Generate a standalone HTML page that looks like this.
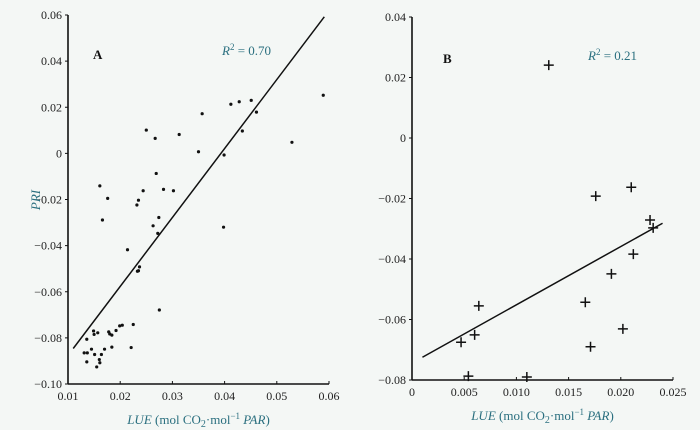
<!DOCTYPE html>
<html><head><meta charset="utf-8"><style>
html,body{margin:0;padding:0;background:#f4f7f5;}
svg{display:block;font-family:"Liberation Serif",serif;}
</style></head><body>
<svg id="c" width="700" height="430" viewBox="0 0 700 430">
<rect width="700" height="430" fill="#f4f7f5"/>
<g id="pa"></g>
<g id="pb"></g>
</svg>
<script>
const aX=[0.0161,0.0176,0.0250,0.0267,0.0269,0.0232,0.0235,0.0244,0.0283,0.0302,0.0313,0.0350,0.0357,0.0399,0.0412,0.0428,0.0434,0.0451,0.0461,0.0529,0.0589,0.0166,0.0263,0.0274,0.0272,0.0398,0.0214,0.0237,0.0233,0.0235,0.0275,0.0136,0.0131,0.0137,0.0136,0.0145,0.0149,0.0150,0.0157,0.0151,0.0155,0.0160,0.0161,0.0164,0.0170,0.0178,0.0180,0.0184,0.0184,0.0192,0.0199,0.0204,0.0225,0.0221];
const aY=[-0.0141,-0.0195,0.0101,0.0065,-0.0087,-0.0224,-0.0203,-0.0162,-0.0156,-0.0162,0.0082,0.0007,0.0172,-0.0007,0.0213,0.0224,0.0097,0.0230,0.0179,0.0048,0.0252,-0.0289,-0.0314,-0.0278,-0.0347,-0.0320,-0.0418,-0.0492,-0.0511,-0.0509,-0.0679,-0.0806,-0.0865,-0.0865,-0.0904,-0.0849,-0.0770,-0.0785,-0.0778,-0.0872,-0.0926,-0.0894,-0.0908,-0.0872,-0.0849,-0.0774,-0.0783,-0.0788,-0.0840,-0.0768,-0.0748,-0.0745,-0.0742,-0.0842];
const aFit=[2.99,-0.1175,0.011,0.0591];
const aXTicks=[0.01,0.02,0.03,0.04,0.05,0.06];
const aXLabels=["0.01","0.02","0.03","0.04","0.05","0.06"];
const aYTicks=[0.06,0.04,0.02,0,-0.02,-0.04,-0.06,-0.08,-0.10];
const aYLabels=["0.06","0.04","0.02","0","\u22120.02","\u22120.04","\u22120.06","\u22120.08","\u22120.10"];
const bX=[0.0131,0.0176,0.0210,0.0228,0.0231,0.0212,0.0191,0.0166,0.0064,0.0202,0.0060,0.0047,0.0171,0.0054,0.0110];
const bY=[0.0241,-0.0192,-0.0163,-0.0271,-0.0297,-0.0384,-0.0449,-0.0543,-0.0555,-0.0631,-0.0651,-0.0675,-0.0690,-0.0787,-0.0790];
const bFit=[1.926,-0.0744,0.001,0.024];
const bXTicks=[0,0.005,0.010,0.015,0.020,0.025];
const bXLabels=["0","0.005","0.010","0.015","0.020","0.025"];
const bYTicks=[0.04,0.02,0,-0.02,-0.04,-0.06,-0.08];
const bYLabels=["0.04","0.02","0","\u22120.02","\u22120.04","\u22120.06","\u22120.08"];

const NS="http://www.w3.org/2000/svg";
function mk(p,t,a){const e=document.createElementNS(NS,t);for(const k in a)e.setAttribute(k,a[k]);p.appendChild(e);return e;}

function panel(g,cfg){
  const sx=v=>cfg.x0+(v-cfg.xmin)/(cfg.xmax-cfg.xmin)*(cfg.x1-cfg.x0);
  const sy=v=>cfg.y1-(v-cfg.ymin)/(cfg.ymax-cfg.ymin)*(cfg.y1-cfg.y0);
  let e=mk(g,'line',{x1:cfg.x0,y1:cfg.y0,x2:cfg.x0,y2:cfg.y1,stroke:'#111','stroke-width':1.6});
  
  
  e=mk(g,'line',{x1:cfg.x0,y1:cfg.y1,x2:cfg.x1,y2:cfg.y1,stroke:'#111','stroke-width':1.6});
  
  
  cfg.yt.forEach((v,i)=>{const y=sy(v);
    mk(g,'line',{x1:cfg.x0-3,y1:y,x2:cfg.x0,y2:y,stroke:'#111','stroke-width':1});
    const t=mk(g,'text',{x:cfg.x0-6,y:y+4,'text-anchor':'end','font-size':12,fill:'#222'});
    t.textContent=cfg.yl[i];
    
    
  });
  cfg.xt.forEach((v,i)=>{const x=sx(v);
    mk(g,'line',{x1:x,y1:cfg.y1-3,x2:x,y2:cfg.y1,stroke:'#111','stroke-width':1});
    const t=mk(g,'text',{x:x,y:cfg.y1+16,'text-anchor':'middle','font-size':12,fill:'#222'});
    t.textContent=cfg.xl[i];
    
    
  });
  const f=cfg.fit;
  e=mk(g,'line',{x1:sx(f[2]),y1:sy(f[0]*f[2]+f[1]),x2:sx(f[3]),y2:sy(f[0]*f[3]+f[1]),stroke:'#111','stroke-width':1.5});
  
  
  cfg.px.forEach((v,i)=>{const x=sx(v),y=sy(cfg.py[i]);
    let m;
    if(cfg.cross){m=mk(g,'path',{d:`M${x-5} ${y}H${x+5}M${x} ${y-5}V${y+5}`,stroke:'#111','stroke-width':1.5});}
    else{m=mk(g,'circle',{cx:x,cy:y,r:1.6,fill:'#111'});}
    
    
  });
  const xt=mk(g,'text',{x:(cfg.x0+cfg.x1)/2,y:cfg.y1+40,'text-anchor':'middle','font-size':13,fill:'#2a6f7f'});
  xt.innerHTML='<tspan font-style="italic">LUE</tspan> (mol CO<tspan font-size="10" dy="3">2</tspan><tspan dy="-3">·mol</tspan><tspan font-size="9" dy="-5">−1</tspan><tspan dy="5"> </tspan><tspan font-style="italic">PAR</tspan>)';
  
  
  const lb=mk(g,'text',{x:cfg.lab[0],y:cfg.lab[1],'font-size':13,'font-weight':'bold',fill:'#111'});
  lb.textContent=cfg.label;
  
  
  const r=mk(g,'text',{x:cfg.r2[0],y:cfg.r2[1],'font-size':13,fill:'#2a6f7f'});
  r.innerHTML='<tspan font-style="italic">R</tspan><tspan font-size="9" dy="-5">2</tspan><tspan dy="5"> = '+cfg.r2t+'</tspan>';
  
  
}
panel(document.getElementById('pa'),{x0:68,x1:329,y0:15,y1:384,xmin:0.01,xmax:0.06,ymin:-0.10,ymax:0.06,
  xt:aXTicks,xl:aXLabels,yt:aYTicks,yl:aYLabels,px:aX,py:aY,fit:aFit,cross:false,lab:[93,59],label:'A',r2:[222,55],r2t:'0.70'});
panel(document.getElementById('pb'),{x0:412,x1:673,y0:17,y1:380,xmin:0,xmax:0.025,ymin:-0.08,ymax:0.04,
  xt:bXTicks,xl:bXLabels,yt:bYTicks,yl:bYLabels,px:bX,py:bY,fit:bFit,cross:true,lab:[443,63],label:'B',r2:[588,60],r2t:'0.21'});
const pri=mk(document.getElementById('c'),'text',{x:0,y:0,transform:'translate(40,200) rotate(-90)','text-anchor':'middle','font-size':13,'font-style':'italic',fill:'#2a6f7f'});
pri.textContent='PRI';


</script>
</body></html>
